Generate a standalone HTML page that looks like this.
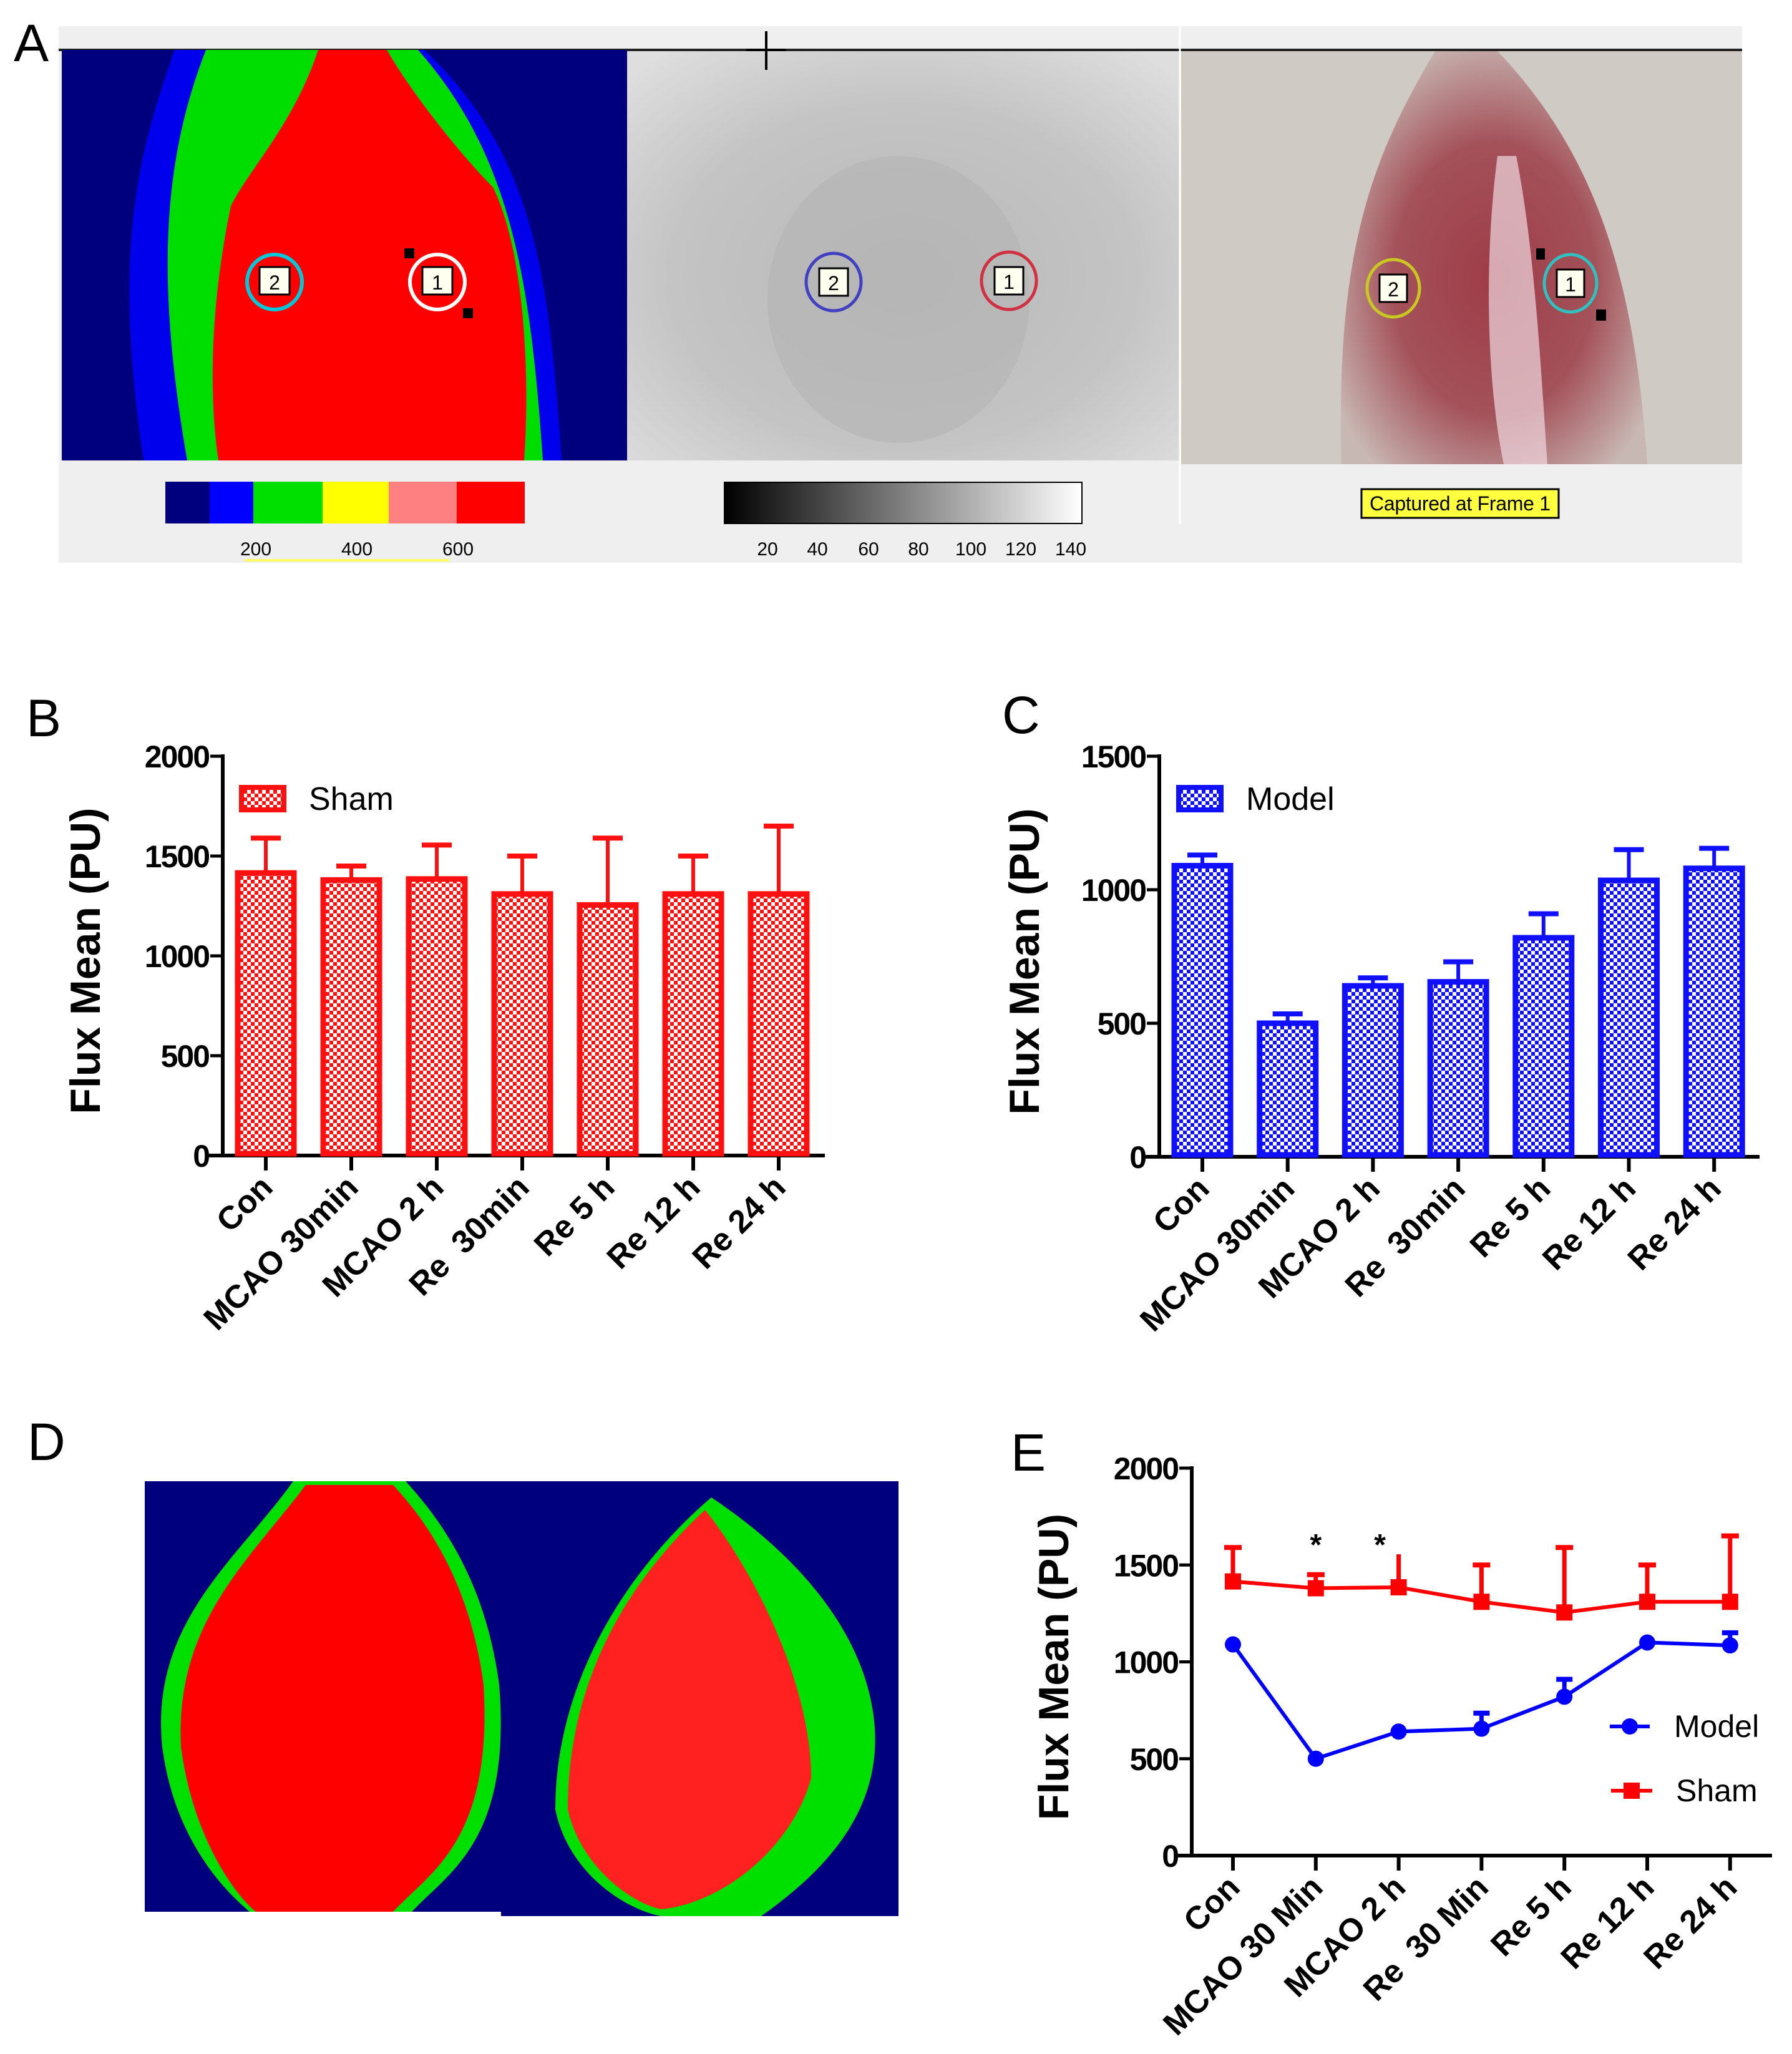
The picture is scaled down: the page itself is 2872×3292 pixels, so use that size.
<!DOCTYPE html>
<html><head><meta charset="utf-8"><style>
html,body{margin:0;padding:0;background:#fff;}
svg{display:block;font-family:"Liberation Sans",Arial,sans-serif;}
text{white-space:pre;}
</style></head><body>
<svg id="fig" width="2872" height="3292" viewBox="0 0 2872 3292" xmlns="http://www.w3.org/2000/svg">
<defs>
<pattern id="chkR" width="12" height="12" patternUnits="userSpaceOnUse"><rect width="12" height="12" fill="#fff"/><rect width="6" height="6" fill="#ff1010"/><rect x="6" y="6" width="6" height="6" fill="#ff1010"/></pattern>
<pattern id="chkB" width="12" height="12" patternUnits="userSpaceOnUse"><rect width="12" height="12" fill="#fff"/><rect width="6" height="6" fill="#1010ff"/><rect x="6" y="6" width="6" height="6" fill="#1010ff"/></pattern>
<linearGradient id="grayBar" x1="0" x2="1" y1="0" y2="0"><stop offset="0" stop-color="#000"/><stop offset="1" stop-color="#fff"/></linearGradient>
<radialGradient id="grayImg" cx="0.5" cy="0.55" r="0.7"><stop offset="0" stop-color="#b8b8b8"/><stop offset="0.6" stop-color="#c4c4c4"/><stop offset="1" stop-color="#dedede"/></radialGradient>
<radialGradient id="photo" cx="0.5" cy="0.55" r="0.6"><stop offset="0" stop-color="#9e3c48"/><stop offset="0.55" stop-color="#a4525a"/><stop offset="1" stop-color="#c8b8b4"/></radialGradient>
</defs>

<g>
<text x="22" y="98" font-size="84">A</text>
<rect x="94" y="42" width="2698" height="860" fill="#efefef"/>
<line x1="94" y1="80" x2="2792" y2="80" stroke="#222" stroke-width="4"/>
<g>
<rect x="99" y="80" width="906" height="658" fill="#00007f"/>
<path d="M280 80 C220 250 180 400 230 738 L900 738 C880 450 860 250 680 80 Z" fill="#0000ff" opacity="0.85"/>
<path d="M330 80 C260 260 250 450 300 738 L870 738 C850 450 820 250 670 80 Z" fill="#00dd00"/>
<path d="M510 80 C470 200 400 270 370 330 C345 450 330 600 350 738 L840 738 C850 600 840 400 790 300 C740 250 660 150 620 80 Z" fill="#ff0000"/>
<circle cx="440" cy="452" r="44" fill="none" stroke="#00c8d8" stroke-width="6"/>
<rect x="416" y="428" width="48" height="44" fill="#fffff0" stroke="#000" stroke-width="3"/><text x="440" y="464" font-size="32" text-anchor="middle">2</text>
<circle cx="701" cy="452" r="44" fill="none" stroke="#fff" stroke-width="6"/>
<rect x="677" y="428" width="48" height="44" fill="#fffff0" stroke="#000" stroke-width="3"/><text x="701" y="464" font-size="32" text-anchor="middle">1</text>
<rect x="648" y="398" width="16" height="16" fill="#000"/><rect x="742" y="494" width="16" height="16" fill="#000"/>
</g>
<g>
<rect x="1005" y="82" width="886" height="656" fill="url(#grayImg)"/>
<ellipse cx="1440" cy="480" rx="210" ry="230" fill="#b4b4b4" opacity="0.6"/>
<ellipse cx="1336" cy="452" rx="44" ry="46" fill="none" stroke="#4040c0" stroke-width="5"/>
<rect x="1313" y="430" width="46" height="44" fill="#fffff0" stroke="#000" stroke-width="3"/><text x="1336" y="465" font-size="32" text-anchor="middle">2</text>
<ellipse cx="1617" cy="450" rx="44" ry="46" fill="none" stroke="#d03040" stroke-width="5"/>
<rect x="1594" y="428" width="46" height="44" fill="#fffff0" stroke="#000" stroke-width="3"/><text x="1617" y="463" font-size="32" text-anchor="middle">1</text>
<line x1="1228" y1="50" x2="1228" y2="112" stroke="#000" stroke-width="4"/><line x1="1196" y1="80" x2="1260" y2="80" stroke="#000" stroke-width="4"/>
</g>
<line x1="1891" y1="42" x2="1891" y2="840" stroke="#fff" stroke-width="3"/>
<g>
<rect x="1893" y="82" width="899" height="662" fill="#cfcac4"/>
<path d="M2300 82 C2200 250 2140 400 2150 744 L2640 744 C2620 450 2560 250 2400 82 Z" fill="url(#photo)"/>
<path d="M2400 250 C2380 400 2380 600 2410 744 L2480 744 C2470 600 2460 400 2430 250 Z" fill="#f0d8e0" opacity="0.7"/>
<ellipse cx="2233" cy="462" rx="42" ry="46" fill="none" stroke="#c8c820" stroke-width="5"/>
<rect x="2211" y="440" width="44" height="44" fill="#fffff0" stroke="#000" stroke-width="3"/><text x="2233" y="475" font-size="32" text-anchor="middle">2</text>
<ellipse cx="2517" cy="454" rx="42" ry="46" fill="none" stroke="#30c0c0" stroke-width="5"/>
<rect x="2495" y="432" width="44" height="44" fill="#fffff0" stroke="#000" stroke-width="3"/><text x="2517" y="467" font-size="32" text-anchor="middle">1</text>
<rect x="2462" y="398" width="14" height="18" fill="#000"/><rect x="2558" y="496" width="16" height="18" fill="#000"/>
</g>
<g>
<rect x="265" y="772" width="71" height="67" fill="#00007f"/><rect x="336" y="772" width="70" height="67" fill="#0000ff"/><rect x="406" y="772" width="111" height="67" fill="#00e000"/><rect x="517" y="772" width="106" height="67" fill="#ffff00"/><rect x="623" y="772" width="109" height="67" fill="#ff8080"/><rect x="732" y="772" width="109" height="67" fill="#ff0000"/>
<text x="410" y="890" font-size="30" text-anchor="middle">200</text><text x="572" y="890" font-size="30" text-anchor="middle">400</text><text x="734" y="890" font-size="30" text-anchor="middle">600</text>
<rect x="392" y="896" width="328" height="4" fill="#ffff60"/>
</g>
<g>
<rect x="1161" y="773" width="573" height="66" fill="url(#grayBar)" stroke="#000" stroke-width="2"/>
<text x="1230" y="890" font-size="30" text-anchor="middle">20</text><text x="1310" y="890" font-size="30" text-anchor="middle">40</text><text x="1392" y="890" font-size="30" text-anchor="middle">60</text><text x="1472" y="890" font-size="30" text-anchor="middle">80</text><text x="1556" y="890" font-size="30" text-anchor="middle">100</text><text x="1636" y="890" font-size="30" text-anchor="middle">120</text><text x="1716" y="890" font-size="30" text-anchor="middle">140</text>
</g>
<rect x="2182" y="784" width="316" height="46" fill="#ffff40" stroke="#000" stroke-width="3"/>
<text x="2340" y="818" font-size="32" text-anchor="middle" textLength="290">Captured at Frame 1</text>
</g>

<g>
<text x="44" y="2340" font-size="84">D</text>
<rect x="232" y="2374" width="571" height="690" fill="#00007f"/>
<path d="M470 2374 C380 2500 240 2600 260 2800 C280 2950 360 3030 400 3064 L660 3064 C720 3000 820 2950 800 2700 C780 2550 720 2450 650 2374 Z" fill="#00e000"/>
<path d="M490 2380 C400 2500 280 2600 290 2800 C310 2950 380 3040 410 3064 L630 3064 C690 3000 790 2950 775 2700 C755 2550 695 2450 630 2380 Z" fill="#ff0000"/>
<rect x="803" y="2374" width="637" height="697" fill="#00007f"/>
<path d="M1140 2400 C1000 2520 890 2700 890 2900 C910 3000 1000 3060 1060 3071 L1220 3071 C1320 3000 1420 2900 1400 2750 C1380 2600 1260 2480 1140 2400 Z" fill="#00e000"/>
<path d="M1130 2420 C1000 2540 910 2700 910 2900 C930 2990 1010 3050 1060 3060 C1160 3050 1270 2960 1300 2850 C1300 2700 1210 2520 1130 2420 Z" fill="#ff2020"/>
</g>

<g id="chartB"></g>
<g id="chartC"></g>
<g id="chartE"></g>
</svg>
<script>
const categoriesBar = ["Con","MCAO 30min","MCAO 2 h","Re  30min","Re 5 h","Re 12 h","Re 24 h"];
const categoriesLine = ["Con","MCAO 30 Min","MCAO 2 h","Re  30 Min","Re 5 h","Re 12 h","Re 24 h"];
const shamMean = [1415,1380,1385,1310,1255,1310,1310];
const shamUpper = [1590,1450,1555,1500,1590,1500,1650];
const modelMean = [1090,500,640,655,820,1035,1080];
const modelUpper = [1130,535,670,730,910,1150,1155];
const lineModelMean = [1090,500,640,655,820,1100,1085];
const lineModelUpper = [1090,500,640,735,910,1100,1150];
const ticksB = [0,500,1000,1500,2000];
const ticksC = [0,500,1000,1500];
const ticksE = [0,500,1000,1500,2000];
const NS="http://www.w3.org/2000/svg";
function mk(parent,tag,attrs,text){const e=document.createElementNS(NS,tag);for(const k in attrs)e.setAttribute(k,attrs[k]);if(text!==undefined)e.textContent=text;parent.appendChild(e);return e;}

function axes(g,o){
  const y=v=>o.y0-(v/o.max)*(o.y0-o.yTop);
  const x=i=>o.x0+i*o.step;
  const ya=mk(g,'line',{x1:o.ax,y1:o.yTop-3,x2:o.ax,y2:o.y0+3,stroke:'#000','stroke-width':6});
  
  
  const xa=mk(g,'line',{x1:o.ax-22,y1:o.y0,x2:o.xEnd,y2:o.y0,stroke:'#000','stroke-width':6});
  
  
  o.ticks.forEach(t=>{
    mk(g,'line',{x1:o.ax-20,y1:y(t),x2:o.ax,y2:y(t),stroke:'#000','stroke-width':5});
    const tl=mk(g,'text',{x:o.ax-22,y:y(t)+18,'font-size':50,'font-weight':'bold','text-anchor':'end','letter-spacing':-2},String(t));
    
    
  });
  o.cats.forEach((c,i)=>{
    mk(g,'line',{x1:x(i),y1:o.y0,x2:x(i),y2:o.y0+24,stroke:'#000','stroke-width':6});
    const lx=x(i)+14, ly=o.y0+54;
    const tl=mk(g,'text',{x:lx,y:ly,'font-size':52,'font-weight':'bold','text-anchor':'end',transform:`rotate(-45 ${lx} ${ly})`},c);
    
    
  });
  const tx=o.titleX, ty=(o.yTop+o.y0)/2+8;
  const tt=mk(g,'text',{x:tx,y:ty,'font-size':68,'font-weight':'bold','text-anchor':'middle',transform:`rotate(-90 ${tx} ${ty})`},'Flux Mean (PU)');
  
  
  const pl=mk(g,'text',{x:o.lx,y:o.ly,'font-size':84},o.letter);
  
  
  return {x,y};
}

function barChart(id,o,mean,upper,color,pat,name){
  const g=document.getElementById(id);
  const {x,y}=axes(g,o);
  mean.forEach((v,i)=>{
    const cx=x(i);
    mk(g,'line',{x1:cx,y1:y(v),x2:cx,y2:y(upper[i]),stroke:color,'stroke-width':6});
    mk(g,'line',{x1:cx-24,y1:y(upper[i]),x2:cx+24,y2:y(upper[i]),stroke:color,'stroke-width':8});
    const b=mk(g,'rect',{x:cx-45,y:y(v),width:90,height:o.y0-y(v)-3,fill:`url(#${pat})`,stroke:color,'stroke-width':9});
    
    
  });
  const sw=mk(g,'rect',{x:o.legX,y:o.legY,width:68,height:36,fill:`url(#${pat})`,stroke:color,'stroke-width':8});
  
  
  const lt=mk(g,'text',{x:o.legX+108,y:o.legY+36,'font-size':52},name);
  
  
}

barChart('chartB',{ax:357,x0:426,step:137,y0:1852,yTop:1212,max:2000,xEnd:1322,ticks:ticksB,cats:categoriesBar,titleX:160,lx:42,ly:1180,letter:'B',legX:387,legY:1262},shamMean,shamUpper,'#ff1010','chkR','Sham');
barChart('chartC',{ax:1858,x0:1927,step:136.7,y0:1854,yTop:1212,max:1500,xEnd:2820,ticks:ticksC,cats:categoriesBar,titleX:1665,lx:1606,ly:1175,letter:'C',legX:1889,legY:1262},modelMean,modelUpper,'#1010ff','chkB','Model');

(function(){
  const g=document.getElementById('chartE');
  const o={ax:1910,x0:1976,step:132.8,y0:2974,yTop:2353,max:2000,xEnd:2840,ticks:ticksE,cats:categoriesLine,titleX:1712,lx:1620,ly:2357,letter:'E'};
  const {x,y}=axes(g,o);
  shamMean.forEach((v,i)=>{
    mk(g,'line',{x1:x(i),y1:y(v),x2:x(i),y2:y(shamUpper[i]),stroke:'#ff0000','stroke-width':7});
    if(i!==2) mk(g,'line',{x1:x(i)-14,y1:y(shamUpper[i]),x2:x(i)+14,y2:y(shamUpper[i]),stroke:'#ff0000','stroke-width':8});
  });
  const sp=mk(g,'polyline',{points:shamMean.map((v,i)=>x(i)+','+y(v)).join(' '),fill:'none',stroke:'#ff0000','stroke-width':6});
  
  
  shamMean.forEach((v,i)=>{
    const m=mk(g,'rect',{x:x(i)-13,y:y(v)-13,width:26,height:26,fill:'#ff0000'});
    
    
  });
  lineModelMean.forEach((v,i)=>{
    if(lineModelUpper[i]>v){
      mk(g,'line',{x1:x(i),y1:y(v),x2:x(i),y2:y(lineModelUpper[i]),stroke:'#0000ff','stroke-width':7});
      mk(g,'line',{x1:x(i)-13,y1:y(lineModelUpper[i]),x2:x(i)+13,y2:y(lineModelUpper[i]),stroke:'#0000ff','stroke-width':8});
    }
  });
  const mp=mk(g,'polyline',{points:lineModelMean.map((v,i)=>x(i)+','+y(v)).join(' '),fill:'none',stroke:'#0000ff','stroke-width':6});
  
  
  lineModelMean.forEach((v,i)=>{
    const m=mk(g,'circle',{cx:x(i),cy:y(v),r:13,fill:'#0000ff'});
    
    
  });
  [1,2].forEach(i=>{
    const s=mk(g,'text',{x:x(i)+(i===2?-30:0),y:2492,'font-size':48,'font-weight':'bold','text-anchor':'middle'},'*');
    
    
  });
  mk(g,'line',{x1:2580,y1:2767,x2:2644,y2:2767,stroke:'#0000ff','stroke-width':6});
  mk(g,'circle',{cx:2612,cy:2767,r:13,fill:'#0000ff'});
  const l1=mk(g,'text',{x:2683,y:2784,'font-size':50},'Model');
  
  
  mk(g,'line',{x1:2582,y1:2870,x2:2648,y2:2870,stroke:'#ff0000','stroke-width':6});
  mk(g,'rect',{x:2602,y:2857,width:26,height:26,fill:'#ff0000'});
  const l2=mk(g,'text',{x:2686,y:2887,'font-size':50},'Sham');
  
  
})();
</script>
</body></html>
